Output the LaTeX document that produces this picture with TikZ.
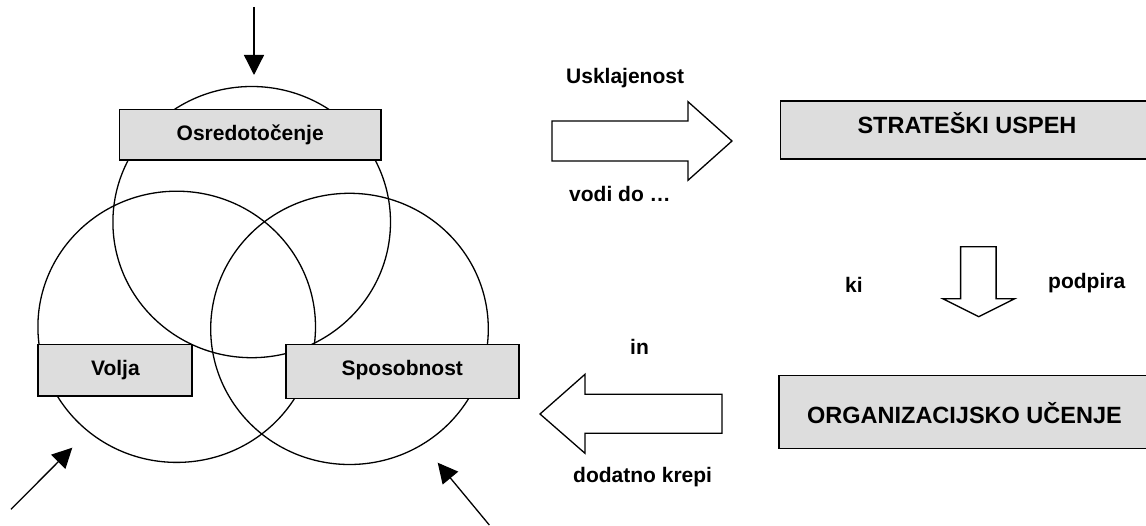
\documentclass[tikz,border=0pt]{standalone}
\usepackage{fontspec}
\setmainfont{Liberation Sans}
\usetikzlibrary{arrows.meta}
\definecolor{boxgray}{HTML}{DDDDDD}
\begin{document}
\begin{tikzpicture}[x=1pt,y=-1pt,
  lbl/.style={font=\fontsize{21}{25}\selectfont\bfseries, inner sep=0pt},
  biglbl/.style={font=\fontsize{23.5}{28}\selectfont\bfseries, inner sep=0pt},
  ring/.style={draw, line width=1.3pt},
  tagbox/.style={draw, line width=1.5pt, fill=boxgray, inner sep=0pt},
  blockarrow/.style={draw, line width=1.3pt, fill=white, line join=miter},
  pointer/.style={line width=1.3pt, -{Triangle[length=20pt,width=20pt]}}
]
\useasboundingbox (0,0) rectangle (1146,526);

% three overlapping rings
\draw[ring] (251.7,222.1) ellipse [x radius=138.8, y radius=135.6];
\draw[ring] (176.7,326.8) ellipse [x radius=138.8, y radius=135.6];
\draw[ring] (349.5,328.9) ellipse [x radius=138.8, y radius=135.6];

% labelled boxes on the rings
\node[tagbox, minimum width=261.4pt, minimum height=50.7pt] (osr) at (250.2,134.75) {};
\node[tagbox, minimum width=154.2pt, minimum height=51.7pt] (volja) at (115,370.2) {};
\node[tagbox, minimum width=233.1pt, minimum height=54pt] (spos) at (402.3,371.3) {};
\node[lbl, anchor=base] (osrt) at (250.2,141) {Osredotočenje};
\node[lbl, anchor=base] (voljat) at (115.4,375.2) {Volja};
\node[lbl, anchor=base] (spost) at (402.3,375.2) {Sposobnost};

% outer pointers into the rings
\coordinate (ptop0) at (254,7);
\coordinate (ptop1) at (254,75);
\coordinate (pleft0) at (11,509.3);
\coordinate (pleft1) at (72.3,447.7);
\coordinate (pright0) at (489.3,525);
\coordinate (pright1) at (437.7,462.7);
\draw[pointer] (ptop0) -- (ptop1);
\draw[pointer] (pleft0) -- (pleft1);
\draw[pointer] (pright0) -- (pright1);

% result boxes
\node[tagbox, minimum width=372.5pt, minimum height=58pt] (su) at (966.5,130) {};
\node[tagbox, minimum width=373pt, minimum height=72.6pt] (ou) at (965.5,412) {};
\node[biglbl, anchor=base] (sut) at (967,134) {STRATEŠKI USPEH};
\node[biglbl, anchor=base] (out) at (964.5,423.3) {ORGANIZACIJSKO UČENJE};

% block arrows
\draw[blockarrow] (552,121) -- (688,121) -- (688,101.7) -- (732,141)
  -- (688,180.3) -- (688,161) -- (552,161) -- cycle;
\draw[blockarrow] (960.6,246.7) -- (996.1,246.7) -- (996.1,298.7) -- (1014.7,298.7)
  -- (978.7,316.7) -- (942.8,298.7) -- (960.6,298.7) -- cycle;
\draw[blockarrow] (722,394.3) -- (585,394.3) -- (585,374.3) -- (540,414)
  -- (585,453.3) -- (585,433.3) -- (722,433.3) -- cycle;

% arrow captions
\node[lbl, anchor=base west] (usk) at (566,84) {Usklajenost};
\node[lbl, anchor=base west] (vodi) at (569,201.7) {vodi do …};
\node[lbl, anchor=base west] (ki) at (845,293) {ki};
\node[lbl, anchor=base west] (podp) at (1048,289) {podpira};
\node[lbl, anchor=base west] (in) at (630,355) {in};
\node[lbl, anchor=base west] (dod) at (573,482.7) {dodatno krepi};
\end{tikzpicture}
\end{document}
